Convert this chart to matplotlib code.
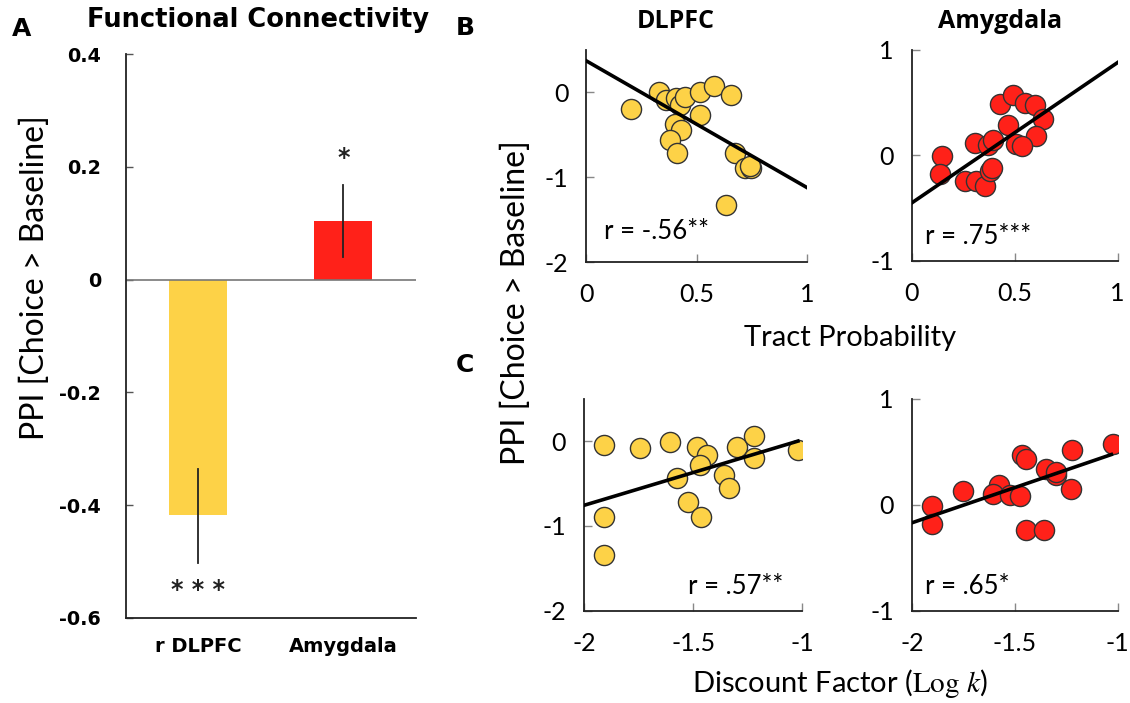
import numpy as np
import matplotlib
matplotlib.use("Agg")
import matplotlib.pyplot as plt

plt.rcParams['font.family'] = ['Lato', 'DejaVu Sans']
plt.rcParams['axes.unicode_minus'] = False
plt.rcParams['mathtext.fontset'] = 'stix'

# ---- data ----
bar_labels = ["r DLPFC", "Amygdala"]
bar_values = [-0.418, 0.104]
err_low = [-0.503, 0.041]
err_high = [-0.335, 0.167]
bar_stars = ["* * *", "*"]
star_y = [-0.551, 0.215]

# B: tract probability vs PPI
tract_dlpfc_x = [0.203, 0.327, 0.362, 0.408, 0.423, 0.445, 0.514, 0.577, 0.658, 0.517,
                 0.400, 0.430, 0.377, 0.410, 0.673, 0.718, 0.748, 0.635, 0.740]
tract_dlpfc_y = [-0.19, 0.01, -0.09, -0.07, -0.15, -0.06, 0.01, 0.07, -0.035, -0.27,
                 -0.37, -0.44, -0.56, -0.71, -0.71, -0.89, -0.89, -1.33, -0.87]
tract_amyg_x = [0.144, 0.136, 0.257, 0.314, 0.354, 0.379, 0.387, 0.307, 0.370, 0.395,
                0.468, 0.427, 0.492, 0.549, 0.597, 0.637, 0.605, 0.508, 0.533]
tract_amyg_y = [-0.006, -0.18, -0.245, -0.245, -0.29, -0.15, -0.12, 0.12, 0.095, 0.15,
                0.286, 0.486, 0.571, 0.50, 0.476, 0.343, 0.184, 0.105, 0.09]

# C: discount factor vs PPI
disc_dlpfc_x = [-1.908, -1.908, -1.908, -1.746, -1.606, -1.575, -1.522, -1.483, -1.437,
                -1.470, -1.464, -1.361, -1.338, -1.300, -1.223, -1.223, -1.022]
disc_dlpfc_y = [-0.047, -0.90, -1.345, -0.085, -0.008, -0.43, -0.72, -0.066, -0.163,
                -0.28, -0.89, -0.395, -0.55, -0.066, 0.058, -0.20, -0.105]
disc_amyg_x = [-1.904, -1.904, -1.751, -1.576, -1.605, -1.524, -1.472, -1.467, -1.443,
               -1.443, -1.359, -1.346, -1.300, -1.300, -1.220, -1.225, -1.023]
disc_amyg_y = [-0.013, -0.18, 0.126, 0.19, 0.104, 0.088, 0.082, 0.465, 0.434,
               -0.24, -0.24, 0.34, 0.276, 0.31, 0.52, 0.144, 0.575]

# regression lines (slope, intercept)
fit_b_dlpfc = (-1.49, 0.37)
fit_b_amyg = (1.33, -0.45)
fit_c_dlpfc = (0.771, 0.786)
fit_c_amyg = (0.663, 1.156)
r_texts = ["r = -.56**", "r = .75***", "r = .57**", "r = .65*"]

yellow = "#FDD247"
red = "#FF2119"

fig = plt.figure(figsize=(11.3, 7.03), dpi=100)

# ---- panel A ----
ax = fig.add_axes([0.1115, 0.121, 0.2566, 0.802])
xpos = np.arange(len(bar_values))
ax.bar(xpos, bar_values, width=0.4, color=[yellow, red])
for i in xpos:
    ax.plot([i, i], [err_low[i], err_high[i]], color="#222222", lw=1.3)
    ax.text(i, star_y[i], bar_stars[i], ha="center", va="center",
            fontsize=17, family="DejaVu Sans", fontweight="bold", color="#222222")
ax.axhline(0, color="#777777", lw=1.2)
ax.set_xlim(-0.5, 1.5)
ax.set_ylim(-0.6, 0.4)
ax.set_yticks([0.4, 0.2, 0, -0.2, -0.4, -0.6])
ax.set_yticklabels(["0.4", "0.2", "0", "-0.2", "-0.4", "-0.6"],
                   family="DejaVu Sans", fontweight="bold", fontsize=13.8)
ax.set_xticks(xpos)
ax.set_xticklabels(bar_labels, family="DejaVu Sans", fontweight="bold", fontsize=14)
ax.tick_params(axis="x", length=0, pad=14)
ax.tick_params(axis="y", direction="in", length=5, width=1, color="#555555", pad=18)
for s in ["top", "right"]:
    ax.spines[s].set_visible(False)
for s in ["left", "bottom"]:
    ax.spines[s].set_linewidth(1.3)
    ax.spines[s].set_color("#222222")
ax.set_ylabel("PPI [Choice > Baseline]", fontsize=23, va="center")
ax.yaxis.set_label_coords(-0.314, 0.603)
fig.text(258 / 1130, 1 - 20 / 703, "Functional Connectivity", family="DejaVu Sans",
         fontweight="bold", fontsize=18.5, ha="center", va="center")

# ---- scatter panels ----
def scatter_panel(rect, xs, ys, color, fit, xlim, xend, ylim, xticks, xlabels,
                  yticks, rtext, rx, ry, rha):
    a = fig.add_axes(rect)
    a.scatter(xs, ys, s=210, color=color, edgecolor="#333333", linewidth=1, zorder=3)
    lx = np.array([xlim[0], xend])
    a.plot(lx, fit[0] * lx + fit[1], color="black", lw=2.6, zorder=4)
    a.set_xlim(*xlim)
    a.set_ylim(*ylim)
    a.set_xticks(xticks)
    a.set_xticklabels(xlabels, fontsize=18)
    a.set_yticks(yticks)
    a.set_yticklabels([str(t) for t in yticks], fontsize=18)
    a.tick_params(direction="in", length=6, width=1, color="#888888")
    a.tick_params(axis="x", pad=15)
    a.tick_params(axis="y", pad=13)
    for s in ["top", "right"]:
        a.spines[s].set_visible(False)
    for s in ["left", "bottom"]:
        a.spines[s].set_linewidth(1.3)
        a.spines[s].set_color("#222222")
    a.text(rx, ry, rtext, ha=rha, va="center", fontsize=18.5, zorder=5)
    return a

ax1 = scatter_panel([0.519, 0.627, 0.195, 0.302], tract_dlpfc_x, tract_dlpfc_y, yellow,
                    fit_b_dlpfc, (0, 1), 1, (-2, 0.5), [0, 0.5, 1], ["0", "0.5", "1"],
                    [-2, -1, 0], r_texts[0], 0.08, -1.64, "left")
ax2 = scatter_panel([0.807, 0.629, 0.182, 0.300], tract_amyg_x, tract_amyg_y, red,
                    fit_b_amyg, (0, 1), 1, (-1, 1), [0, 0.5, 1], ["0", "0.5", "1"],
                    [-1, 0, 1], r_texts[1], 0.063, -0.77, "left")
ax3 = scatter_panel([0.517, 0.131, 0.193, 0.302], disc_dlpfc_x, disc_dlpfc_y, yellow,
                    fit_c_dlpfc, (-2, -1), -1.02, (-2, 0.5), [-2, -1.5, -1],
                    ["-2", "-1.5", "-1"], [-2, -1, 0], r_texts[2], -1.087, -1.71, "right")
ax4 = scatter_panel([0.807, 0.131, 0.182, 0.302], disc_amyg_x, disc_amyg_y, red,
                    fit_c_amyg, (-2, -1), -1.03, (-1, 1), [-2, -1.5, -1],
                    ["-2", "-1.5", "-1"], [-1, 0, 1], r_texts[3], -1.937, -0.77, "left")

fig.text(676 / 1130, 1 - 22 / 703, "DLPFC", fontweight="bold", fontsize=18,
         family=["Open Sans", "DejaVu Sans"], ha="center", va="center")
fig.text(1000 / 1130, 1 - 22 / 703, "Amygdala", fontweight="bold", fontsize=18,
         family=["Open Sans", "DejaVu Sans"], ha="center", va="center")

fig.text(850 / 1130, 1 - 338 / 703, "Tract Probability", ha="center", va="center", fontsize=21)
fig.text(840 / 1130, 1 - 683 / 703, r"Discount Factor ($\mathrm{Log}\ k$)",
         ha="center", va="center", fontsize=21)
fig.text(516 / 1130, 1 - 303 / 703, "PPI [Choice > Baseline]", rotation=90,
         ha="center", va="center", fontsize=23)

for lab, x, y in [("A", 22, 29), ("B", 465, 28), ("C", 465, 365)]:
    fig.text(x / 1130, 1 - y / 703, lab, ha="center", va="center", fontsize=18,
             fontweight="bold", family="DejaVu Sans")

fig.savefig("out.png", dpi=100)
